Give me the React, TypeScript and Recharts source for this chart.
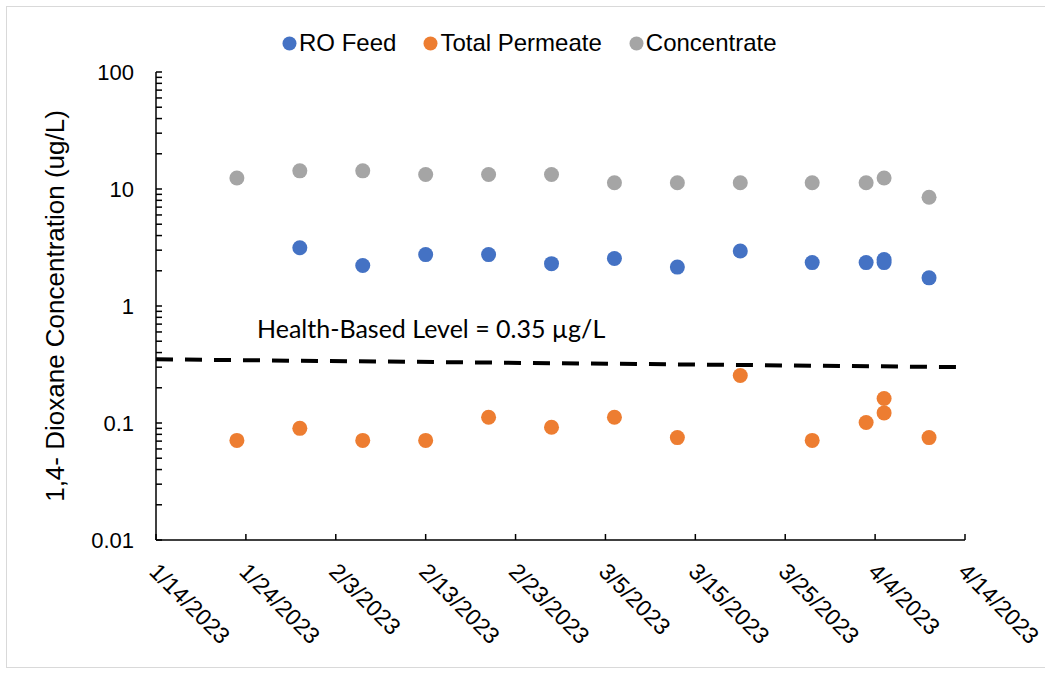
import { Legend, Scatter, ScatterChart, XAxis, YAxis } from "recharts";

// sample dates and measured values (ug/L)
const sampleDates = [
  "2023-01-23", "2023-01-30", "2023-02-06", "2023-02-13", "2023-02-20",
  "2023-02-27", "2023-03-06", "2023-03-13", "2023-03-20", "2023-03-28",
  "2023-04-03", "2023-04-05", "2023-04-05", "2023-04-10",
];
// null = not sampled
const roFeed = [null, 3.15, 2.22, 2.75, 2.75, 2.3, 2.55, 2.15, 2.95, 2.35, 2.35, 2.5, 2.35, 1.74];
const permeate = [0.071, 0.09, 0.071, 0.071, 0.112, 0.092, 0.112, 0.075, 0.255, 0.071, 0.101, 0.162, 0.122, 0.075];
const concentrate = [12.4, 14.3, 14.3, 13.3, 13.3, 13.3, 11.3, 11.3, 11.3, 11.3, 11.3, 12.4, null, 8.5];

const healthDates = ["2023-01-14", "2023-04-14"];
const healthLevel = [0.35, 0.3];

const seriesNames = ["RO Feed", "Total Permeate", "Concentrate"];
const seriesColors = ["#4472C4", "#ED7D31", "#A5A5A5"];

const xTickDates = [
  "2023-01-14", "2023-01-24", "2023-02-03", "2023-02-13", "2023-02-23",
  "2023-03-05", "2023-03-15", "2023-03-25", "2023-04-04", "2023-04-14",
];
const yMajor = [0.01, 0.1, 1, 10, 100];
const yMinorSteps = [2, 3, 4, 5, 6, 7, 8, 9];

const toTime = (s: string) => {
  const [y, m, d] = s.split("-").map(Number);
  return Date.UTC(y, m - 1, d);
};
const fmtDate = (t: number) => {
  const d = new Date(t);
  return `${d.getUTCMonth() + 1}/${d.getUTCDate()}/${d.getUTCFullYear()}`;
};

const pairs = (vals: (number | null)[]) =>
  sampleDates
    .map((s, i) => ({ x: toTime(s), y: vals[i] }))
    .filter((p) => p.y != null);

const seriesData = [pairs(roFeed), pairs(permeate), pairs(concentrate)];
const healthData = healthDates.map((s, i) => ({ x: toTime(s), y: healthLevel[i] }));

const xTicks = xTickDates.map(toTime);
const yTicks: number[] = [];
yMajor.forEach((m, i) => {
  yTicks.push(m);
  if (i < yMajor.length - 1) yMinorSteps.forEach((k) => yTicks.push(m * k));
});

const FONT = "'Liberation Sans', Arial, sans-serif";

const XTick = (props: any) => {
  const { x, y, payload } = props;
  const tx = x - 8;
  const ty = y + 33;
  return (
    <g>
      <line x1={x} y1={y} x2={x} y2={y - 6} stroke="#000" strokeWidth={1.5} />
      <text
        x={tx}
        y={ty}
        transform={`rotate(45 ${tx} ${ty})`}
        textAnchor="start"
        fontSize={23}
        fontFamily={FONT}
        fill="#000"
      >
        {fmtDate(payload.value)}
      </text>
    </g>
  );
};

const YTick = (props: any) => {
  const { x, y, payload } = props;
  const axisX = x + 10;
  const major = yMajor.includes(payload.value);
  return (
    <g>
      <line x1={axisX} y1={y} x2={axisX + 6} y2={y} stroke="#000" strokeWidth={1.5} />
      {major && (
        <text x={axisX - 22} y={y + 8} textAnchor="end" fontSize={22} fontFamily={FONT} fill="#000">
          {payload.value}
        </text>
      )}
    </g>
  );
};

const YTitle = (props: any) => {
  const vb = props.viewBox;
  const cx = vb.x + 55;
  const cy = vb.y + vb.height / 2;
  return (
    <text
      x={cx}
      y={cy}
      transform={`rotate(-90 ${cx} ${cy})`}
      textAnchor="middle"
      dominantBaseline="central"
      fontSize={26}
      fontFamily={FONT}
      fill="#000"
    >
      1,4- Dioxane Concentration (ug/L)
    </text>
  );
};

const LegendContent = () => (
  <div style={{ display: "flex", alignItems: "center", fontSize: 24, fontFamily: FONT, color: "#000" }}>
    {seriesNames.map((n, i) => (
      <div key={n} style={{ display: "flex", alignItems: "center", marginRight: 27 }}>
        <svg width={15} height={15} style={{ marginRight: 2 }}>
          <circle cx={7.5} cy={7.5} r={7} fill={seriesColors[i]} />
        </svg>
        <span>{n}</span>
      </div>
    ))}
  </div>
);

export default function App() {
  return (
    <div style={{ position: "absolute", left: 0, top: 0, width: 1045, height: 673, background: "#fff" }}>
      <div
        style={{
          position: "absolute",
          left: 6,
          top: 6,
          width: 1045,
          height: 662,
          border: "1.5px solid #d9d9d9",
          boxSizing: "border-box",
        }}
      />
      <ScatterChart
        width={1045}
        height={673}
        margin={{ top: 72, right: 80, bottom: 0, left: 0 }}
        style={{ position: "absolute", left: 0, top: 0, fontFamily: FONT }}
      >
        <XAxis
          type="number"
          dataKey="x"
          domain={[xTicks[0], xTicks[xTicks.length - 1]]}
          ticks={xTicks}
          interval={0}
          height={133}
          tickSize={0}
          tickMargin={0}
          tickLine={false}
          axisLine={{ stroke: "#000", strokeWidth: 1.5 }}
          tick={<XTick />}
        />
        <YAxis
          type="number"
          dataKey="y"
          scale="log"
          domain={[0.01, 100]}
          ticks={yTicks}
          interval={0}
          width={156}
          tickSize={0}
          tickMargin={10}
          tickLine={false}
          axisLine={{ stroke: "#000", strokeWidth: 1.5 }}
          tick={<YTick />}
          allowDataOverflow
          label={<YTitle />}
        />
        <Legend
          layout="horizontal"
          verticalAlign="middle"
          align="center"
          wrapperStyle={{ top: 29, left: 282, width: 640 }}
          content={<LegendContent />}
        />
        {seriesNames.map((n, i) => (
          <Scatter
            key={n}
            name={n}
            data={seriesData[i]}
            fill={seriesColors[i]}
            shape={(p: any) => <circle cx={p.cx} cy={p.cy} r={7.5} fill={seriesColors[i]} />}
            isAnimationActive={false}
          />
        ))}
        <Scatter
          name="Health-Based Level"
          data={healthData}
          legendType="none"
          line={{ stroke: "#000", strokeWidth: 4, strokeDasharray: "17 12" }}
          shape={() => <g />}
          isAnimationActive={false}
        />
      </ScatterChart>
      <div
        style={{
          position: "absolute",
          left: 257,
          top: 311,
          fontSize: 25,
          lineHeight: "34px",
          fontFamily: "Lato, 'Open Sans', sans-serif",
          color: "#000",
          whiteSpace: "nowrap",
        }}
      >
        Health-Based Level = 0.35 µg/L
      </div>
    </div>
  );
}
